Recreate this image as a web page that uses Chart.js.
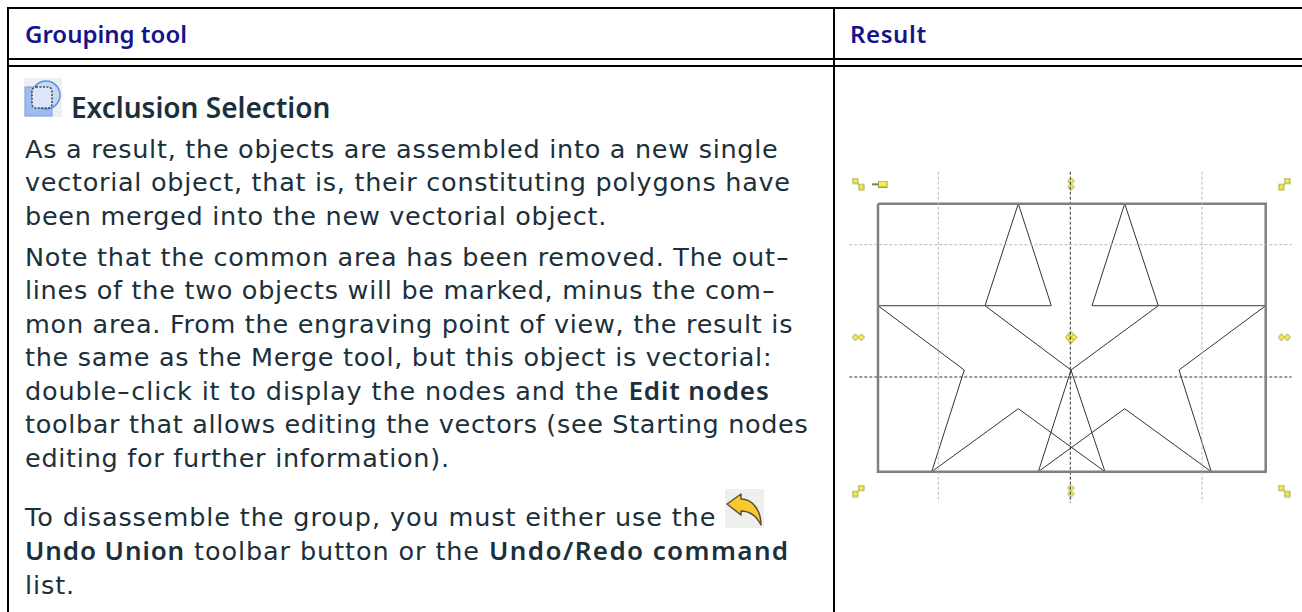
<!DOCTYPE html>
<html>
<head>
<meta charset="utf-8">
<title>Exclusion Selection</title>
<script src="https://cdn.jsdelivr.net/npm/chart.js@4"></script>
<style>
  html, body { margin: 0; padding: 0; background: #fff; overflow: hidden; }
  #page { position: relative; width: 1302px; height: 612px; overflow: hidden; color: #1b303b; font-family: "DejaVu Sans", sans-serif; }
  .rule { position: absolute; background: #000; }
  .head { position: absolute; top: 17px; font: 600 24px/34px "Noto Sans", sans-serif; color: #14148c; white-space: nowrap; }
  .title { position: absolute; left: 71px; top: 88px; font: 600 28px/38px "Noto Sans", sans-serif; white-space: nowrap; }
  .para { position: absolute; left: 25px; font-size: 25.5px; letter-spacing: 0.72px; line-height: 33.3px; white-space: nowrap; }
  .para b { font-family: "Noto Sans", sans-serif; font-weight: 600; font-size: 26px; }
  .hy { display: inline-block; transform: scaleX(1.45); margin: 0 2px; }
  svg { position: absolute; }
  #diagram { position: absolute; left: 840px; top: 160px; filter: blur(0.45px); }
</style>
</head>
<body>
<div id="page">
  <div class="rule" style="left:7px;top:7px;width:1295px;height:2px"></div>
  <div class="rule" style="left:7px;top:58px;width:1295px;height:2px"></div>
  <div class="rule" style="left:7px;top:65px;width:1295px;height:2px"></div>
  <div class="rule" style="left:7px;top:7px;width:2px;height:605px"></div>
  <div class="rule" style="left:833px;top:7px;width:2px;height:605px"></div>

  <div class="head" style="left:25px">Grouping tool</div>
  <div class="head" style="left:850px;letter-spacing:0.6px">Result</div>

  <svg style="left:24px;top:78px" width="38" height="39" viewBox="0 0 38 39">
    <rect width="38" height="39" fill="#eef0f2"/>
    <rect x="1" y="9" width="27" height="29" fill="#9dbdf0" stroke="#7d9fe0"/>
    <circle cx="22" cy="17" r="14" fill="#c5d9f7" stroke="#5f8ee8" stroke-width="1.5"/>
    <rect x="8" y="9" width="20" height="21" rx="4" fill="#dbe6f8" stroke="#444" stroke-width="1.5" stroke-dasharray="2 1.5"/>
  </svg>
  <div class="title">Exclusion Selection</div>

  <div class="para" style="top:133px">As a result, the objects are assembled into a new single<br>vectorial object, that is, their constituting polygons have<br>been merged into the new vectorial object.</div>
  <div class="para" style="top:241px">Note that the common area has been removed. The out<span class="hy">-</span><br>lines of the two objects will be marked, minus the com<span class="hy">-</span><br>mon area. From the engraving point of view, the result is<br>the same as the Merge tool, but this object is vectorial:<br><span style="letter-spacing:0.88px">double<span class="hy">-</span>click it to display the nodes and the <b>Edit nodes</b></span><br><span style="letter-spacing:0.66px">toolbar that allows editing the vectors (see Starting nodes</span><br>editing for further information).</div>
  <div class="para" style="top:501px;letter-spacing:0.9px">To disassemble the group, you must either use the<br><b>Undo Union</b> toolbar button or the <b style="letter-spacing:1.4px">Undo/Redo command</b><br>list.</div>

  <svg style="left:725px;top:489px" width="39" height="39" viewBox="0 0 39 39">
    <rect width="39" height="39" fill="#efefed"/>
    <path d="M2 15 L16 5 L16 10 C28 10 36 22 36 36 C31 26 25 22 16 22 L16 26 Z" fill="#f7c92e" stroke="#5c5335" stroke-width="1.5" stroke-linejoin="round"/>
  </svg>

  <canvas id="diagram" width="462" height="360"></canvas>
</div>

<script>
// all points, in px from the top left of the result cell
const frameX = [38, 425.7, 425.7, 38, 38];
const frameY = [43.7, 43.7, 311.7, 311.7, 43.7];

const topEdgeLeftX = [38, 211.3];
const topEdgeLeftY = [145.7, 145.7];
const topEdgeRightX = [252, 425.7];
const topEdgeRightY = [145.7, 145.7];

const spikeLeftX = [145, 178.3, 211.3];
const spikeLeftY = [145.7, 43.7, 145.7];
const spikeRightX = [252, 284.7, 318.3];
const spikeRightY = [145.7, 43.7, 145.7];

const starLeftX = [38, 124.3, 91.7, 178.3, 265, 231, 318.3];
const starLeftY = [145.7, 210, 311.7, 248.7, 311.7, 210, 145.7];
const starRightX = [145, 231, 198.3, 284.7, 371.3, 339, 425.7];
const starRightY = [145.7, 210, 311.7, 248.7, 311.7, 210, 145.7];

const guideLightV1X = [98.3, 98.3];
const guideLightV2X = [362, 362];
const guideLightVY = [11.7, 342.7];
const guideLightHX = [9.3, 451.7];
const guideLightHY = [84.7, 84.7];
const guideDarkVX = [230.3, 230.3];
const guideDarkVY = [11.7, 342.7];
const guideDarkHX = [9.3, 451.7];
const guideDarkHY = [217, 217];

const handlesNwseX = [18.3, 444.3];
const handlesNwseY = [24, 331];
const handlesNeswX = [444.3, 18.3];
const handlesNeswY = [24, 331];
const handlesVertX = [231, 231];
const handlesVertY = [24, 331];
const handlesHorzX = [18.3, 444.3];
const handlesHorzY = [177.3, 177.3];
const centerX = [231];
const centerY = [177.3];
const pinX = [40];
const pinY = [24];

function pts(xs, ys) {
  return xs.map((x, i) => ({ x: x, y: ys[i] }));
}

function sprite(w, h, draw) {
  const c = document.createElement("canvas");
  c.width = w;
  c.height = h;
  const g = c.getContext("2d");
  g.fillStyle = "#f4f04a";
  g.strokeStyle = "#a3a345";
  g.lineWidth = 1;
  draw(g);
  return c;
}

function diamond(g, x, y, rx, ry) {
  g.beginPath();
  g.moveTo(x - rx, y);
  g.lineTo(x, y - ry);
  g.lineTo(x + rx, y);
  g.lineTo(x, y + ry);
  g.closePath();
  g.fill();
  g.stroke();
}

// corner handle, a short bar with a square on each end
function bar(g, x1, y1, x2, y2) {
  g.beginPath();
  g.moveTo(x1, y1);
  g.lineTo(x2, y2);
  g.stroke();
  g.fillRect(x1 - 2.5, y1 - 2.5, 5, 5);
  g.strokeRect(x1 - 2.5, y1 - 2.5, 5, 5);
  g.fillRect(x2 - 2.5, y2 - 2.5, 5, 5);
  g.strokeRect(x2 - 2.5, y2 - 2.5, 5, 5);
}

const arrowH = sprite(13, 9, (g) => {
  diamond(g, 3.5, 4.5, 3, 3.5);
  diamond(g, 9.5, 4.5, 3, 3.5);
});
const arrowV = sprite(9, 13, (g) => {
  diamond(g, 4.5, 3.5, 3.5, 3);
  diamond(g, 4.5, 9.5, 3.5, 3);
});
const arrowNwse = sprite(13, 13, (g) => bar(g, 3.5, 3.5, 9.5, 9.5));
const arrowNesw = sprite(13, 13, (g) => bar(g, 9.5, 3.5, 3.5, 9.5));
const arrowCross = sprite(13, 13, (g) => {
  diamond(g, 3.5, 6.5, 3, 3);
  diamond(g, 9.5, 6.5, 3, 3);
  diamond(g, 6.5, 3.5, 3, 3);
  diamond(g, 6.5, 9.5, 3, 3);
});
const pin = sprite(16, 7, (g) => {
  g.fillStyle = "#55552a";
  g.fillRect(0, 3, 7, 1.5);
  g.fillStyle = "#f4f04a";
  g.fillRect(6.5, 0.5, 8.5, 6);
  g.strokeRect(6.5, 0.5, 8.5, 6);
});

const lineSet = (xs, ys, color, width, dash) => ({
  data: pts(xs, ys),
  showLine: true,
  borderColor: color,
  borderWidth: width,
  borderDash: dash || [],
  pointRadius: 0,
  tension: 0,
});
const iconSet = (xs, ys, icon) => ({
  data: pts(xs, ys),
  showLine: false,
  pointStyle: icon,
  pointRadius: 6,
});

new Chart(document.getElementById("diagram").getContext("2d"), {
  type: "scatter",
  data: {
    datasets: [
      lineSet(guideLightV1X, guideLightVY, "#b9b9b9", 1, [3, 2]),
      lineSet(guideLightV2X, guideLightVY, "#b9b9b9", 1, [3, 2]),
      lineSet(guideLightHX, guideLightHY, "#b9b9b9", 1, [3, 2]),
      lineSet(frameX, frameY, "#808080", 2.5),
      lineSet(topEdgeLeftX, topEdgeLeftY, "#606060", 1.2),
      lineSet(topEdgeRightX, topEdgeRightY, "#606060", 1.2),
      lineSet(spikeLeftX, spikeLeftY, "#333333", 1),
      lineSet(spikeRightX, spikeRightY, "#333333", 1),
      lineSet(starLeftX, starLeftY, "#333333", 1),
      lineSet(starRightX, starRightY, "#333333", 1),
      lineSet(guideDarkVX, guideDarkVY, "#333333", 1, [3, 2]),
      lineSet(guideDarkHX, guideDarkHY, "#333333", 1, [3, 2]),
      iconSet(handlesNwseX, handlesNwseY, arrowNwse),
      iconSet(handlesNeswX, handlesNeswY, arrowNesw),
      iconSet(handlesVertX, handlesVertY, arrowV),
      iconSet(handlesHorzX, handlesHorzY, arrowH),
      iconSet(centerX, centerY, arrowCross),
      iconSet(pinX, pinY, pin),
    ],
  },
  options: {
    responsive: false,
    animation: false,
    layout: { padding: 0, autoPadding: false },
    plugins: { legend: { display: false }, tooltip: { enabled: false } },
    scales: {
      x: { type: "linear", min: 0, max: 462, display: false },
      y: { type: "linear", min: 0, max: 360, reverse: true, display: false },
    },
  },
});
</script>
</body>
</html>
